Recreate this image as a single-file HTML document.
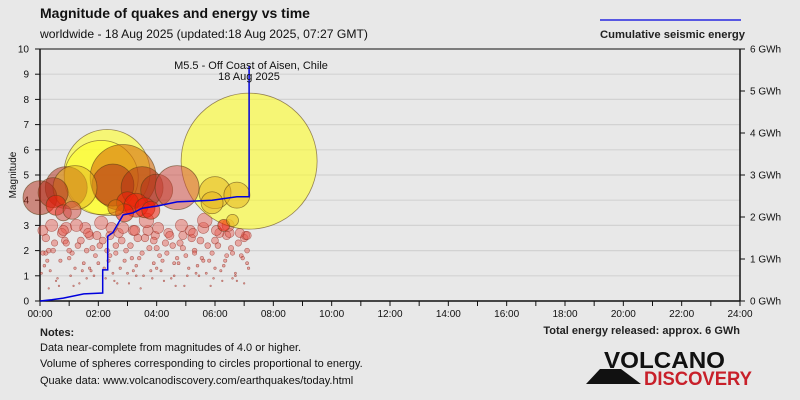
<!DOCTYPE html>
<html><head><meta charset="utf-8"><style>
body{margin:0;background:#e8e8e8;}
svg{display:block;font-family:"Liberation Sans",sans-serif;}
</style></head><body>
<svg width="800" height="400" viewBox="0 0 800 400">
<rect x="0" y="0" width="800" height="400" fill="#e8e8e8"/>
<text x="40" y="18" font-size="14" font-weight="bold" fill="#111">Magnitude of quakes and energy vs time</text>
<text x="40" y="38" font-size="12" fill="#111" textLength="328" lengthAdjust="spacingAndGlyphs">worldwide - 18 Aug 2025 (updated:18 Aug 2025, 07:27 GMT)</text>
<line x1="600" y1="20" x2="741" y2="20" stroke="#0000dd" stroke-width="1.2"/>
<text x="600" y="38" font-size="11" font-weight="bold" fill="#222" textLength="145" lengthAdjust="spacingAndGlyphs">Cumulative seismic energy</text>
<g id="grid"></g>
<g id="axes"></g>
<g id="small"></g>
<g id="big"></g>
<g id="energy"></g>
<text x="251" y="69" font-size="11" text-anchor="middle" fill="#111">M5.5 - Off Coast of Aisen, Chile</text>
<text x="249" y="80" font-size="11" text-anchor="middle" fill="#111">18 Aug 2025</text>
<text transform="translate(16,175) rotate(-90)" font-size="10" text-anchor="middle" fill="#111">Magnitude</text>
<text x="40" y="336" font-size="11" font-weight="bold" fill="#222">Notes:</text>
<text x="40" y="351" font-size="11" fill="#111">Data near-complete from magnitudes of 4.0 or higher.</text>
<text x="40" y="367" font-size="11" fill="#111">Volume of spheres corresponding to circles proportional to energy.</text>
<text x="40" y="384" font-size="11" fill="#111">Quake data: www.volcanodiscovery.com/earthquakes/today.html</text>
<text x="740" y="334" font-size="11" font-weight="bold" fill="#222" text-anchor="end">Total energy released: approx. 6 GWh</text>
<g>
<polygon points="586,384 600,369 621,369 641,384" fill="#111"/>
<text x="604" y="368" font-size="23" font-weight="bold" fill="#111" textLength="121" lengthAdjust="spacingAndGlyphs">VOLCANO</text>
<text x="644" y="385" font-size="19" font-weight="bold" fill="#c8202a" textLength="108" lengthAdjust="spacingAndGlyphs">DISCOVERY</text>
</g>
</svg>
<script>
const xTicks=["00:00","02:00","04:00","06:00","08:00","10:00","12:00","14:00","16:00","18:00","20:00","22:00","24:00"];
const yTicks=[0,1,2,3,4,5,6,7,8,9,10];
const eTicks=["0 GWh","1 GWh","2 GWh","3 GWh","4 GWh","5 GWh","6 GWh"];
// large quakes: time (h), magnitude, colour class, radius
const bigT=[7.17,2.3,2.1,2.85,2.5,0.9,1.2,0.0,0.45,0.55,3.5,4.0,4.7,6.0,6.75,5.9,3.0,3.3,3.6,2.9,3.8,0.8,1.1,6.3,6.6,2.6];
const bigM=[5.55,5.1,4.9,4.9,4.6,4.5,4.5,4.1,4.3,3.8,4.5,4.4,4.5,4.3,4.2,3.9,3.9,3.8,3.7,3.5,3.6,3.5,3.6,3.0,3.2,3.7];
const bigC=["y","y","y","o","r","r","t","r","r","b","r","r","p","t","t","t","b","b","b","b","b","p","p","b","t","o"];
const bigR=[68,43,37,33,21,21,22,17,15,10,21,16,22,16,13,11,11,12,10,9,9,8,9,6,6,8];
// small quakes: time (h), magnitude
const smT=[0.1,0.2,0.35,0.5,0.7,0.9,1.05,1.3,1.5,1.7,1.9,2.05,2.2,2.4,2.6,2.8,3.0,3.2,3.4,3.6,3.8,4.0,4.2,4.4,4.6,4.8,5.0,5.2,5.4,5.6,5.8,6.0,6.2,6.4,6.6,6.8,7.0,7.1,
 0.15,0.3,0.55,0.75,1.0,1.2,1.4,1.6,1.8,2.0,2.3,2.5,2.7,2.9,3.1,3.3,3.5,3.7,3.9,4.1,4.3,4.5,4.7,4.9,5.1,5.3,5.5,5.7,5.9,6.1,6.3,6.5,6.7,6.9,7.05,
 0.05,0.25,0.45,0.65,0.85,1.1,1.35,1.55,1.75,1.95,2.15,2.35,2.55,2.75,2.95,3.15,3.35,3.55,3.75,3.95,4.15,4.35,4.55,4.75,4.95,5.15,5.35,5.55,5.75,5.95,6.15,6.35,6.55,6.75,6.95,7.15,
 0.4,0.8,1.25,1.65,2.1,2.45,2.85,3.25,3.65,4.05,4.45,4.85,5.25,5.65,6.05,6.45,6.85,7.1,
 0.6,1.15,1.85,2.65,3.45,4.25,5.05,5.85,6.6,0.3,1.45,2.25,3.05,3.85,4.65,5.45,6.25,7.0,
 0.2,1.0,1.7,2.4,3.2,3.9,4.6,5.3,6.0,6.7,0.1,0.9,1.6,2.6,3.3,4.0,4.9,5.6,6.4,7.1];
const smM=[2.8,1.9,1.2,2.3,1.6,2.9,1.0,2.2,1.5,2.6,1.8,2.2,1.3,2.6,1.9,2.4,1.1,2.8,1.7,2.5,1.2,2.1,1.6,2.7,1.0,2.3,1.8,2.5,1.4,2.9,1.6,2.4,1.2,2.6,1.9,2.3,2.5,1.5,
 1.4,2.0,0.8,2.7,1.7,1.3,2.4,0.9,2.1,1.5,2.0,1.1,2.7,1.6,2.2,1.4,1.9,2.8,1.5,1.8,2.3,0.9,1.7,2.6,1.3,2.0,2.4,1.1,1.9,2.2,1.4,2.7,1.0,1.8,2.6,
 1.1,1.6,2.0,0.6,2.4,1.9,0.7,2.9,1.2,2.6,2.4,1.6,0.8,1.3,2.0,1.7,2.5,1.0,2.1,2.6,1.2,1.9,2.2,1.5,0.6,2.8,1.1,1.7,2.2,0.9,2.7,1.6,2.1,0.8,1.7,1.3,
 3.0,2.8,3.0,2.7,3.1,2.9,2.9,2.8,3.2,2.9,2.6,3.0,2.7,3.2,2.8,3.0,2.7,2.6,
 0.9,0.6,1.0,0.7,0.5,0.8,1.0,0.6,0.9,0.5,1.2,0.9,0.7,0.9,0.6,1.0,0.8,0.7,
 2.5,2.0,1.3,1.8,1.2,2.4,1.5,1.9,1.3,1.1,1.9,2.3,2.0,2.2,1.0,1.3,2.1,1.6,1.8,2.0];
// cumulative energy steps: time (h), GWh
const enT=[0,0.4,0.8,1.5,2.15,2.15,2.32,2.32,2.5,2.85,3.2,3.5,4.0,4.7,5.9,6.75,7.17,7.17];
const enV=[0,0.03,0.07,0.17,0.19,0.74,0.74,1.54,1.63,2.05,2.1,2.21,2.26,2.36,2.4,2.48,2.48,5.6];

const NS="http://www.w3.org/2000/svg";
const X0=40,X1=740,Y0=301,Y1=49;
const xs=t=>X0+(X1-X0)*t/24;
const ym=m=>Y0-(Y0-Y1)*m/10;
const ye=e=>Y0-(Y0-Y1)*e/6;
function mk(tag,attrs,parent){const e=document.createElementNS(NS,tag);for(const k in attrs)e.setAttribute(k,attrs[k]);parent.appendChild(e);return e;}
const grid=document.getElementById('grid'),axes=document.getElementById('axes');
yTicks.forEach((v,i)=>{
 if(v>0&&v<10){const l=mk('line',{x1:X0,x2:X1,y1:ym(v),y2:ym(v),stroke:'#d2d2d2','stroke-width':1.2},grid);
 
 }
 mk('line',{x1:X0-5,x2:X0,y1:ym(v),y2:ym(v),stroke:'#111'},axes);
 const t=mk('text',{x:X0-11,y:ym(v)+3.5,'font-size':10,'text-anchor':'end',fill:'#111'},axes);t.textContent=v;
 
 
});
eTicks.forEach((s,i)=>{
 mk('line',{x1:X1,x2:X1+5,y1:ye(i),y2:ye(i),stroke:'#111'},axes);
 const t=mk('text',{x:X1+10,y:ye(i)+3.5,'font-size':10,fill:'#111'},axes);t.textContent=s;
 
 
});
for(let h=0;h<=24;h++){mk('line',{x1:xs(h),x2:xs(h),y1:Y0,y2:Y0+5,stroke:'#111'},axes);}
xTicks.forEach((s,i)=>{const t=mk('text',{x:xs(i*2),y:Y0+16,'font-size':10,'text-anchor':'middle',fill:'#111'},axes);t.textContent=s;
 
 });
mk('line',{x1:X0,x2:X1,y1:Y1,y2:Y1,stroke:'#111'},axes);
mk('line',{x1:X0,x2:X0,y1:Y1,y2:Y0,stroke:'#111','stroke-width':1.5},axes);
mk('line',{x1:X1,x2:X1,y1:Y1,y2:Y0,stroke:'#111','stroke-width':1.5},axes);
mk('line',{x1:X0,x2:X1,y1:Y0,y2:Y0,stroke:'#111','stroke-width':1.5},axes);

const small=document.getElementById('small');
smT.forEach((t,i)=>{const m=smM[i];const r=Math.max(0.8,0.8*Math.pow(10,0.4*(m-0.8)));
 const c=mk('circle',{cx:xs(t),cy:ym(m),r:r,fill:'rgba(230,90,80,0.45)',stroke:'rgba(140,40,30,0.6)','stroke-width':0.6},small);
 
 });
const fills={y:'rgba(255,255,40,0.6)',o:'rgba(215,110,10,0.6)',r:'rgba(175,40,20,0.5)',t:'rgba(230,180,30,0.55)',b:'rgba(240,30,10,0.55)',p:'rgba(210,70,60,0.5)'};
const big=document.getElementById('big');
bigT.forEach((t,i)=>{const c=mk('circle',{cx:xs(t),cy:ym(bigM[i]),r:bigR[i],fill:fills[bigC[i]],stroke:'rgba(90,60,20,0.6)','stroke-width':0.8},big);
 
 });
const en=document.getElementById('energy');
let d='';enT.forEach((t,i)=>{d+=(i?'L':'M')+xs(t).toFixed(1)+','+ye(enV[i]).toFixed(1);});
const p=mk('path',{d:d,fill:'none',stroke:'#0000dd','stroke-width':1.5},en);


</script>
</body></html>
